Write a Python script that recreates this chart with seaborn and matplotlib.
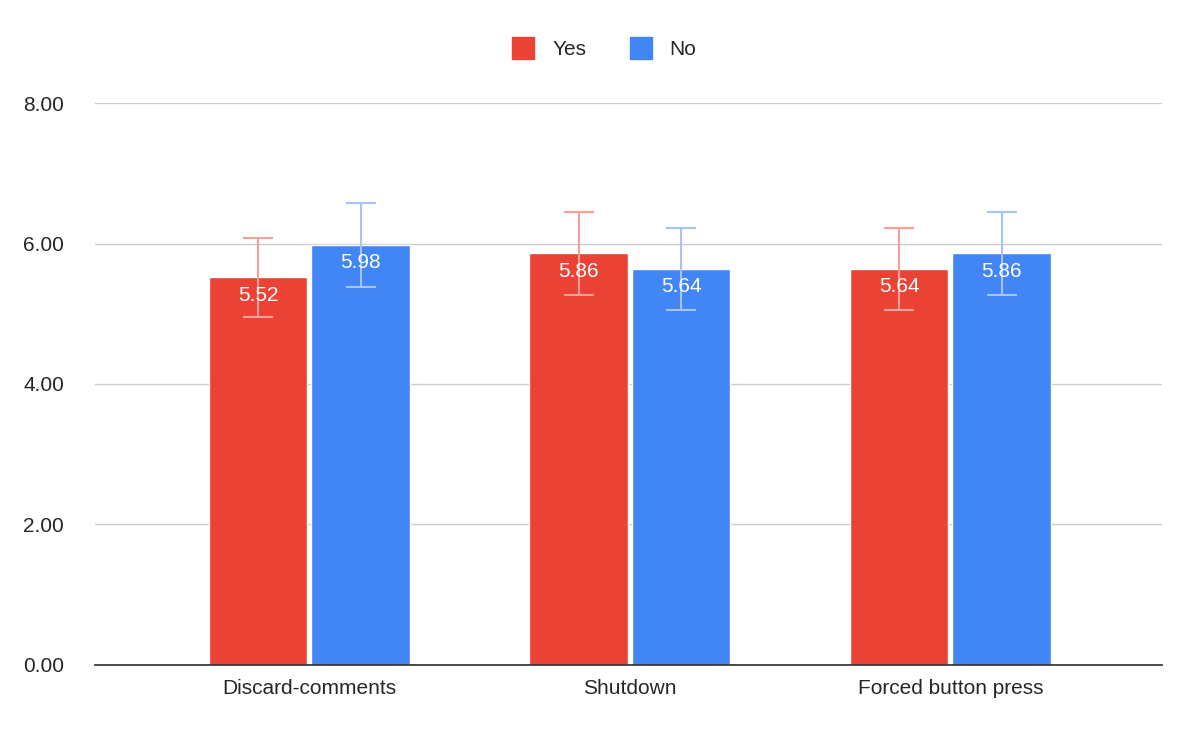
import numpy as np
import pandas as pd
import matplotlib
matplotlib.use("Agg")
import matplotlib.pyplot as plt
import seaborn as sns

categories = ["Discard-comments", "Shutdown", "Forced button press"]
groups = ["Yes", "No"]
yes_vals = [5.52, 5.86, 5.64]
no_vals = [5.98, 5.64, 5.86]
yes_err = [0.56, 0.59, 0.58]
no_err = [0.60, 0.58, 0.59]
colors = {"Yes": "#ea4335", "No": "#4285f4"}
err_colors = {"Yes": "#f4a09a", "No": "#a6c4fa"}

df = pd.DataFrame({
    "category": categories * 2,
    "group": ["Yes"] * 3 + ["No"] * 3,
    "value": yes_vals + no_vals,
    "err": yes_err + no_err,
})

sns.set_theme(style="white")
plt.rcParams["font.family"] = ["Liberation Sans", "DejaVu Sans"]

fig = plt.figure(figsize=(11.99, 7.42), dpi=100)
ax = fig.add_axes([0.079, 0.104, 0.890, 0.757])
sns.barplot(data=df, x="category", y="value", hue="group", hue_order=groups,
            palette=colors, width=0.64, gap=0.04, ax=ax, errorbar=None,
            saturation=1, legend=False)

for container, g in zip(ax.containers, groups):
    sub = df[df.group == g]
    for bar, (_, row) in zip(container, sub.iterrows()):
        cx = bar.get_x() + bar.get_width() / 2
        ax.errorbar(cx, row.value, yerr=row.err, color=err_colors[g], capsize=11,
                    elinewidth=1.5, capthick=1.5, zorder=3)
        ax.text(cx, row.value - 0.12, f"{row.value:.2f}", color="white",
                ha="center", va="top", fontsize=15, zorder=4)

ax.set_ylim(0, 8)
ax.set_xlim(-0.67, 2.66)
ax.set_yticks([0, 2, 4, 6, 8])
ax.set_yticklabels([f"{v:.2f}" for v in [0, 2, 4, 6, 8]], fontsize=15)
ax.tick_params(axis="x", labelsize=15, length=0, pad=10)
ax.tick_params(axis="y", length=0, pad=22)
ax.yaxis.grid(True, color="#cccccc", linewidth=1)
ax.set_axisbelow(True)
ax.set_xlabel("")
ax.set_ylabel("")
for s in ["top", "right", "left"]:
    ax.spines[s].set_visible(False)
ax.spines["bottom"].set_color("#333333")

handles = [plt.Line2D([], [], marker="s", linestyle="", markersize=16,
                      color=colors[g]) for g in groups]
fig.legend(handles, groups, loc="center", bbox_to_anchor=(0.5, 0.933), ncol=2,
           frameon=False, fontsize=15, handletextpad=0.4, columnspacing=1.6)

fig.savefig("out.png", dpi=100)
